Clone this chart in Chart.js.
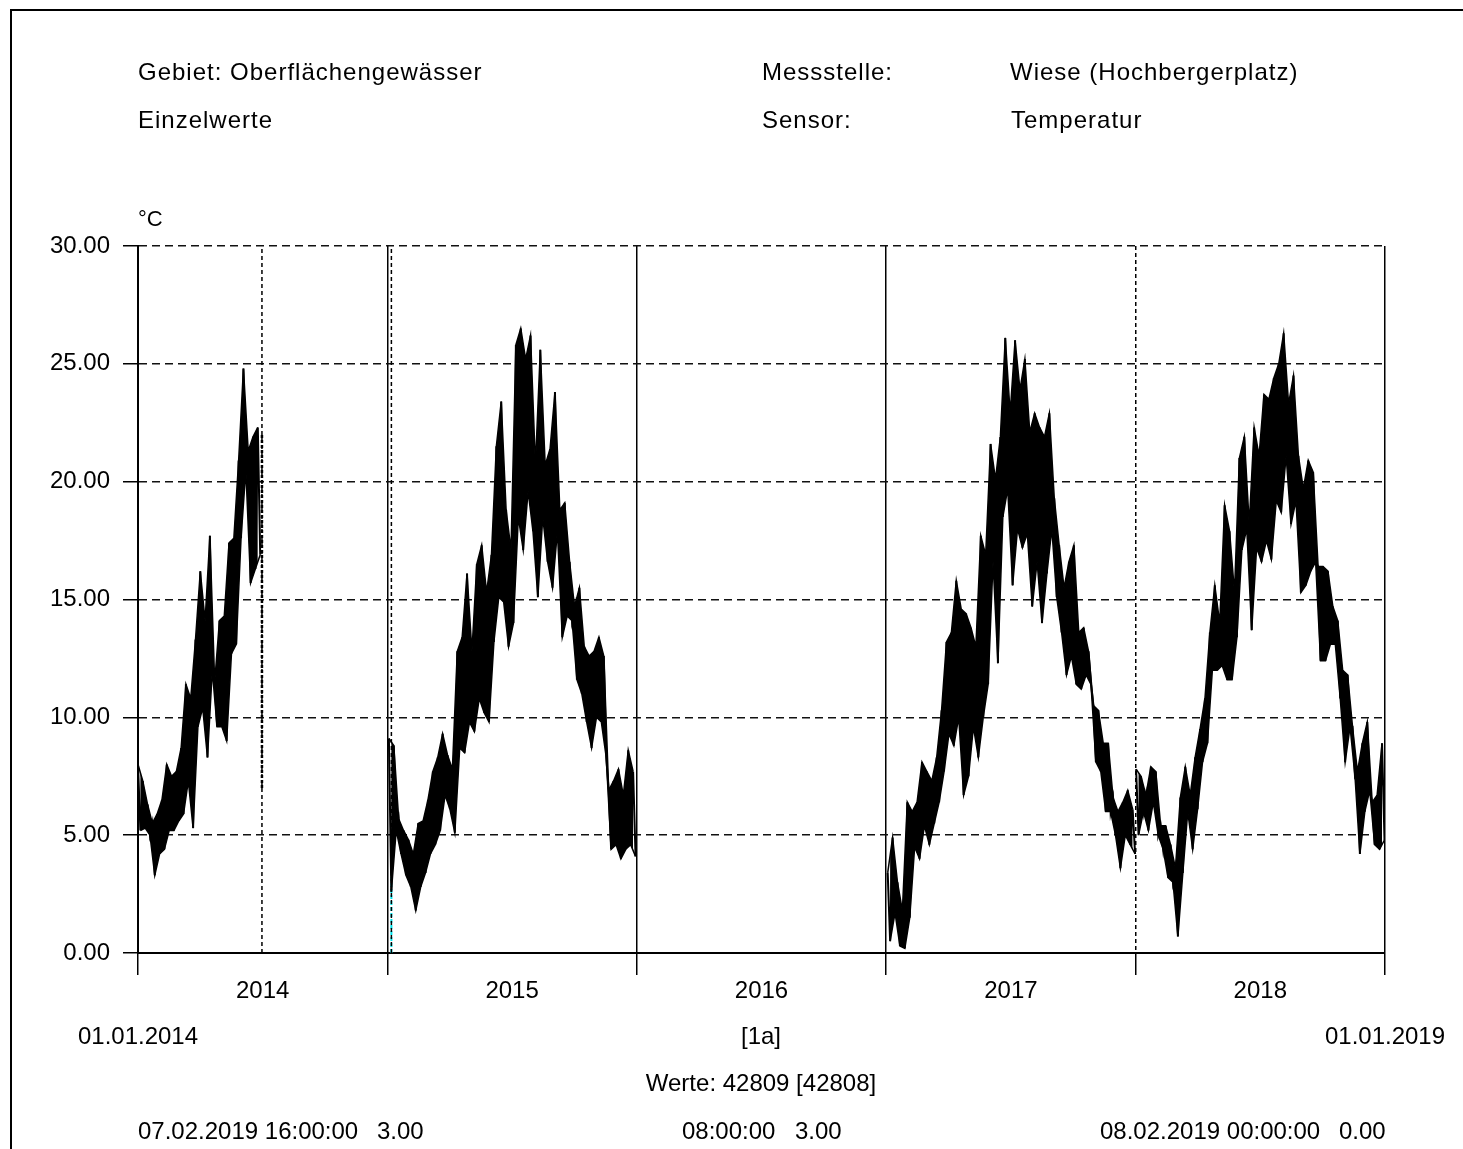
<!DOCTYPE html>
<html>
<head>
<meta charset="utf-8">
<script src="https://cdn.jsdelivr.net/npm/chart.js@4.4.1/dist/chart.umd.min.js"></script>
<style>
  body { margin: 0; background: #fff; font-family: "Liberation Sans", Arial, sans-serif; }
  #wrap { position: relative; width: 1463px; height: 1149px; overflow: hidden; }
  #frame { position: absolute; left: 10px; top: 9px; width: 1600px; height: 1300px;
           border-left: 2px solid #000; border-top: 2px solid #000; }
  canvas { position: absolute; left: 0; top: 0; }
  .t { position: absolute; font-size: 24px; line-height: 24px; color: #000; white-space: nowrap; }
  .sp { letter-spacing: 1px; }
  .c { transform: translateX(-50%); }
</style>
</head>
<body>
<div id="wrap">
  <div id="frame"></div>
  <canvas id="grafico" width="1463" height="1149"></canvas>

  <div class="t sp" style="left:138px;top:60px">Gebiet: Oberflächengewässer</div>
  <div class="t sp" style="left:138px;top:108px">Einzelwerte</div>
  <div class="t sp" style="left:762px;top:60px">Messstelle:</div>
  <div class="t sp" style="left:762px;top:108px">Sensor:</div>
  <div class="t sp" style="left:1010px;top:60px">Wiese (Hochbergerplatz)</div>
  <div class="t sp" style="left:1011px;top:108px">Temperatur</div>
  <div class="t" style="left:138px;top:207px;font-size:22px">°C</div>

  <div class="t c" style="left:138px;top:1024px">01.01.2014</div>
  <div class="t c" style="left:761px;top:1024px">[1a]</div>
  <div class="t c" style="left:1385px;top:1024px">01.01.2019</div>
  <div class="t c" style="left:761px;top:1071px">Werte: 42809 [42808]</div>
  <div class="t" style="left:138px;top:1119px">07.02.2019 16:00:00</div>
  <div class="t" style="left:377px;top:1119px">3.00</div>
  <div class="t" style="left:682px;top:1119px">08:00:00</div>
  <div class="t" style="left:795px;top:1119px">3.00</div>
  <div class="t" style="left:1100px;top:1119px">08.02.2019 00:00:00</div>
  <div class="t" style="left:1339px;top:1119px">0.00</div>
</div>

<script>
// Achsen
const yearTicks = [2014, 2014.5, 2015, 2015.5, 2016, 2016.5, 2017, 2017.5, 2018, 2018.5, 2019]
const dashedYears = [2018]
const gapLines = [2014.497, 2015.016]
const gapData2014 = [7.0, 22.0]
const cyanX = 2015.016
const cyanY = [0, 3.9]

// Temperatur (max / min abwechselnd, ca. alle 7 Tage)
const range2014 = [2014.0, 2014.49]
const temp2014 = [8.0,5.2, 7.3,5.3, 6.3,5.0, 5.5,3.3, 5.9,4.2, 6.5,4.4, 8.0,5.2, 7.5,5.2, 7.7,5.6, 8.7,5.9,
  11.4,7.3, 10.8,5.3, 13.3,9.6, 16.2,10.4, 14.1,8.3, 17.7,12.0, 11.5,9.6, 14.1,9.6, 14.3,9.0, 17.4,12.7,
  17.6,13.1, 20.9,17.6, 24.8,20.5, 21.3,15.7, 21.9,16.3, 22.3,16.9]

const range2015 = [2015.006, 2015.995]
const temp2015 = [9.1,2.6, 8.8,5.2, 5.7,4.2, 5.2,3.3, 4.8,2.8, 4.2,1.8, 5.5,2.8, 5.6,3.4, 6.5,4.2, 7.7,4.6,
  8.3,5.2, 9.3,6.7, 8.4,6.1, 7.8,5.1, 12.8,8.7, 13.4,8.5, 16.1,9.8, 12.8,9.4, 16.5,10.8, 17.3,10.2,
  15.3,9.8, 16.9,13.2, 21.5,15.1, 23.4,14.9, 18.8,13.0, 17.1,14.0, 25.8,18.5, 26.5,17.1, 25.2,19.6, 26.2,17.9,
  20.7,15.1, 25.6,18.5, 20.7,16.6, 21.4,15.5, 23.8,17.9, 18.8,13.4, 19.1,14.3, 16.6,14.1, 14.7,11.6, 15.5,11.0,
  13.0,9.8, 12.6,8.7, 12.8,10.0, 13.4,9.8, 12.6,8.3, 6.9,4.4, 7.3,4.6, 7.8,4.0, 6.7,4.4, 8.6,4.6, 7.7,4.1]

const range2017 = [2017.006, 2017.998]
const temp2017 = [3.4,0.5, 4.9,1.7, 3.0,0.3, 1.8,0.2, 6.4,1.5, 6.0,4.5, 6.4,4.0, 8.1,5.4, 7.7,4.6, 7.3,5.5,
  8.3,6.4, 10.3,7.7, 13.2,9.3, 13.6,8.8, 15.8,10.0, 14.6,6.7, 14.4,7.5, 13.8,9.6, 13.0,8.3, 17.7,10.0,
  16.9,11.4, 21.6,16.6, 20.1,12.3, 21.9,18.5, 26.1,19.7, 22.9,15.6, 26.0,18.0, 23.9,17.2, 25.2,17.8, 22.1,14.7,
  22.9,16.6, 22.3,14.0, 21.9,16.1, 22.9,18.0, 19.3,15.1, 17.3,13.6, 15.5,11.8, 16.6,12.6, 17.3,11.4, 13.6,11.2,
  13.8,11.8, 12.8,11.4, 10.5,8.1, 10.3,7.7, 8.9,6.0, 8.9,6.0, 6.6,5.0, 6.0,3.6, 6.4,5.0, 6.9,4.6, 6.1,4.2]

const range2018 = [2018.002, 2018.998]
const temp2018 = [7.8,5.0, 7.5,6.0, 6.7,5.2, 7.9,6.4, 7.7,5.0, 5.4,4.4, 5.4,3.2, 4.6,3.0, 3.6,0.7, 6.6,3.4,
  7.9,6.0, 6.7,4.4, 8.3,6.1, 9.5,8.1, 10.8,8.9, 13.6,12.0, 15.6,12.0, 14.0,12.2, 19.0,11.6, 17.9,11.6,
  15.3,13.4, 21.0,17.1, 21.9,18.0, 18.2,13.7, 22.3,17.2, 21.1,16.6, 23.7,17.5, 23.5,16.7, 24.4,19.2, 25.0,18.7,
  26.3,21.1, 23.3,18.2, 24.5,19.2, 21.1,15.3, 19.7,15.6, 20.9,16.2, 20.4,16.6, 16.4,12.4, 16.4,12.4, 16.2,13.1,
  14.7,13.1, 14.1,10.8, 12.0,8.1, 11.8,9.6, 9.6,7.5, 7.7,4.2, 8.9,6.0, 9.8,6.9, 6.4,4.6, 6.7,4.4, 8.9,4.8]

function toPoints(values, range) {
  const step = (range[1] - range[0]) / (values.length - 1)
  return values.map((v, i) => ({ x: range[0] + i * step, y: v }))
}

const datasets = []

// je Segment: Band (max bis min gefuellt) + Zickzack-Linie
function addSegment(values, range) {
  const pts = toPoints(values, range)
  datasets.push({
    data: pts.filter((p, i) => i % 2 === 0),
    borderColor: '#000',
    backgroundColor: '#000',
    borderWidth: 1.5,
    pointRadius: 0,
    fill: '+1'
  })
  datasets.push({
    data: pts.filter((p, i) => i % 2 === 1),
    borderColor: '#000',
    borderWidth: 1.5,
    pointRadius: 0,
    fill: false
  })
  datasets.push({
    data: pts,
    borderColor: '#000',
    borderWidth: 2,
    pointRadius: 0,
    tension: 0,
    fill: false
  })
}

addSegment(temp2014, range2014)
addSegment(temp2015, range2015)
addSegment(temp2017, range2017)
addSegment(temp2018, range2018)

gapLines.forEach(g => {
  datasets.push({
    data: [{ x: g, y: 0 }, { x: g, y: 30 }],
    borderColor: '#000',
    borderWidth: 1.5,
    borderDash: [4, 3],
    pointRadius: 0
  })
})

datasets.push({
  data: [{ x: gapLines[0], y: gapData2014[0] }, { x: gapLines[0], y: gapData2014[1] }],
  borderColor: '#000',
  borderWidth: 2.5,
  borderDash: [3, 2],
  pointRadius: 0
})

datasets.push({
  data: [{ x: cyanX, y: cyanY[0] }, { x: cyanX, y: cyanY[1] }],
  borderColor: '#00e5ee',
  borderWidth: 2,
  borderDash: [4, 2],
  pointRadius: 0
})

Chart.defaults.font.family = '"Liberation Sans", Arial, sans-serif'
Chart.defaults.font.size = 24
Chart.defaults.color = '#000'

const isMid = v => Math.abs(v - Math.round(v)) > 0.1

const ctx = document.getElementById('grafico')

const graph = new Chart(ctx, {
  type: 'line',
  data: { datasets },
  options: {
    responsive: false,
    animation: false,
    devicePixelRatio: 1,
    layout: { padding: { top: 246, right: 78, bottom: 116, left: 0 } },
    plugins: { legend: { display: false }, tooltip: { enabled: false } },
    scales: {
      x: {
        type: 'linear',
        min: 2014,
        max: 2019,
        afterBuildTicks: s => { s.ticks = yearTicks.map(v => ({ value: v })) },
        afterFit: s => { s.height = 80 },
        ticks: {
          autoSkip: false,
          maxRotation: 0,
          padding: 2,
          callback: v => isMid(v) ? String(Math.floor(v)) : ''
        },
        grid: {
          color: c => isMid(c.tick.value) ? 'rgba(0,0,0,0)' : '#000',
          tickColor: c => isMid(c.tick.value) ? 'rgba(0,0,0,0)' : '#000',
          lineWidth: 1.5,
          tickWidth: 1.5,
          tickLength: 22
        },
        border: {
          color: '#000',
          width: 2,
          dash: c => (c.tick && dashedYears.includes(c.tick.value)) ? [4, 3] : []
        }
      },
      y: {
        min: 0,
        max: 30,
        afterFit: s => { s.width = 138 },
        ticks: {
          stepSize: 5,
          padding: 13,
          callback: v => v.toFixed(2)
        },
        grid: {
          color: '#111',
          lineWidth: 1.5,
          tickColor: '#000',
          tickWidth: 1.5,
          tickLength: 15
        },
        border: {
          color: '#000',
          width: 2,
          dash: c => (c.tick && c.tick.value > 0) ? [8, 5] : []
        }
      }
    }
  }
})
</script>
</body>
</html>
